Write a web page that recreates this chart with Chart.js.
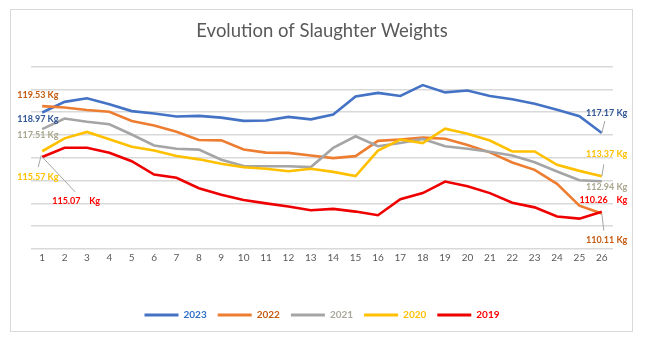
<!DOCTYPE html>
<html>
<head>
<meta charset="utf-8">
<script src="https://cdn.jsdelivr.net/npm/chart.js@4/dist/chart.umd.min.js"></script>
<style>
  html, body { margin: 0; padding: 0; background: #ffffff; }
  #wrap { width: 656px; height: 338px; }
</style>
</head>
<body>
<div id="wrap"><canvas id="chart" width="656" height="338"></canvas></div>
<script>
// Weeks 1..26
const weeks = ['1','2','3','4','5','6','7','8','9','10','11','12','13','14','15','16','17','18','19','20','21','22','23','24','25','26'];

// Average slaughter weight per week (kg)
const w2023 = [118.97, 119.90, 120.22, 119.70, 119.09, 118.88, 118.62, 118.67, 118.52, 118.23, 118.26, 118.58, 118.37, 118.79, 120.38, 120.69, 120.42, 121.37, 120.73, 120.90, 120.42, 120.13, 119.73, 119.20, 118.64, 117.17];
const w2022 = [119.53, 119.40, 119.18, 119.03, 118.23, 117.83, 117.28, 116.55, 116.52, 115.73, 115.45, 115.43, 115.20, 114.97, 115.14, 116.48, 116.60, 116.76, 116.67, 116.12, 115.47, 114.59, 113.94, 112.71, 110.80, 110.11];
const w2021 = [117.51, 118.44, 118.16, 117.93, 117.04, 116.08, 115.79, 115.71, 114.83, 114.28, 114.26, 114.26, 114.18, 115.86, 116.88, 116.01, 116.29, 116.65, 116.00, 115.79, 115.53, 115.20, 114.61, 113.80, 113.03, 112.94];
const w2020 = [115.57, 116.70, 117.26, 116.62, 115.97, 115.64, 115.15, 114.86, 114.47, 114.17, 114.03, 113.82, 114.04, 113.76, 113.40, 115.63, 116.60, 116.29, 117.55, 117.11, 116.51, 115.55, 115.55, 114.38, 113.85, 113.37];
const w2019 = [115.07, 115.88, 115.88, 115.44, 114.70, 113.53, 113.24, 112.33, 111.76, 111.30, 111.00, 110.72, 110.40, 110.52, 110.28, 109.96, 111.37, 111.90, 112.91, 112.50, 111.90, 111.06, 110.65, 109.85, 109.66, 110.26];

const seriesNames = ['2023', '2022', '2021', '2020', '2019'];

// Value axis range and gridline step (kg)
const yMin = 107;
const yMax = 123;
const yStep = 2;

const lineColors   = ['#4472C4', '#ED7D31', '#A5A5A5', '#FFC000', '#EE0000'];
const legendColors = ['#2F6FC6', '#C55A11', '#A9A89A', '#FFC000', '#FF0000'];
const labelColors  = ['#2F5597', '#C55A11', '#A9A68E', '#FFC000', '#FF0000'];

const allSeries = [w2023, w2022, w2021, w2020, w2019];

const fmt = v => v.toFixed(2);

// End-of-series callouts: dataset, point, text builder, offsets from the point, alignment, leader segment
const callouts = [
  { ds: 1, pt: 0,  text: v => fmt(v) + ' Kg',    dx: -25, dy: -10.5, align: 'left',  lead: null },
  { ds: 0, pt: 0,  text: v => fmt(v) + ' Kg',    dx: -25, dy: 6.5,   align: 'left',  lead: null },
  { ds: 2, pt: 0,  text: v => fmt(v) + ' Kg',    dx: -25, dy: 5.5,   align: 'left',  lead: null },
  { ds: 3, pt: 0,  text: v => fmt(v) + ' Kg',    dx: -25, dy: 26,    align: 'left',  lead: [-4, 16, -1, 4] },
  { ds: 4, pt: 0,  text: v => fmt(v) + '    Kg', dx: 10,  dy: 44,    align: 'left',  lead: [0, 0, 33, 35] },
  { ds: 0, pt: 25, text: v => fmt(v) + ' Kg',    dx: 25.5, dy: -20,  align: 'right', lead: [0, 0, 3, -12] },
  { ds: 3, pt: 25, text: v => fmt(v) + ' Kg',    dx: 25.5, dy: -22,  align: 'right', lead: [0, 0, 2, -12] },
  { ds: 2, pt: 25, text: v => fmt(v) + ' Kg',    dx: 25.5, dy: 5.5,  align: 'right', lead: null },
  { ds: 4, pt: 25, text: v => fmt(v) + '    Kg', dx: 25.5, dy: -12,  align: 'right', lead: null },
  { ds: 1, pt: 25, text: v => fmt(v) + ' Kg',    dx: 25.5, dy: 27,   align: 'right', lead: [0, 0, 2, 17] }
];

const frame = {
  id: 'frame',
  beforeDraw(chart) {
    const ctx = chart.ctx;
    ctx.save();
    ctx.fillStyle = '#ffffff';
    ctx.fillRect(0, 0, chart.width, chart.height);
    ctx.strokeStyle = '#d9d9d9';
    ctx.lineWidth = 1;
    ctx.strokeRect(10.5, 9.5, 622, 322);
    ctx.restore();
  }
};

const calloutPlugin = {
  id: 'callouts',
  afterDatasetsDraw(chart) {
    const ctx = chart.ctx;
    ctx.save();
    ctx.font = 'bold 9px Lato, "Liberation Sans", sans-serif';
    ctx.textBaseline = 'middle';
    callouts.forEach(c => {
      const el = chart.getDatasetMeta(c.ds).data[c.pt];
      const v = chart.data.datasets[c.ds].data[c.pt];
      if (c.lead) {
        ctx.strokeStyle = '#A6A6A6';
        ctx.lineWidth = 1;
        ctx.beginPath();
        ctx.moveTo(el.x + c.lead[0], el.y + c.lead[1]);
        ctx.lineTo(el.x + c.lead[2], el.y + c.lead[3]);
        ctx.stroke();
      }
      ctx.fillStyle = labelColors[c.ds];
      ctx.textAlign = c.align;
      ctx.fillText(c.text(v), el.x + c.dx, el.y + c.dy);
    });
    ctx.restore();
  }
};

new Chart(document.getElementById('chart'), {
  type: 'line',
  data: {
    labels: weeks,
    datasets: allSeries.map((d, i) => ({
      label: seriesNames[i],
      data: d,
      borderColor: lineColors[i],
      backgroundColor: lineColors[i],
      borderWidth: 2.6,
      pointRadius: 0,
      tension: 0,
      fill: false,
      order: 5 - i
    }))
  },
  options: {
    responsive: false,
    animation: false,
    layout: { padding: { left: 31, right: 43, top: 20, bottom: 8 } },
    plugins: {
      tooltip: { enabled: false },
      title: {
        display: true,
        text: 'Evolution of Slaughter Weights',
        color: '#595959',
        font: { family: 'Lato, "Open Sans", sans-serif', size: 18.5, weight: '400', lineHeight: 1.2 },
        padding: { top: 0, bottom: 24.3 }
      },
      legend: {
        position: 'bottom',
        labels: {
          boxWidth: 34,
          boxHeight: 3,
          padding: 11,
          font: { family: 'Lato, "Liberation Sans", sans-serif', size: 10, weight: 'bold' },
          generateLabels(chart) {
            return chart.data.datasets.map((ds, i) => ({
              text: ds.label,
              fillStyle: ds.borderColor,
              strokeStyle: ds.borderColor,
              lineWidth: 0,
              fontColor: legendColors[i],
              hidden: false,
              datasetIndex: i
            }));
          }
        }
      }
    },
    scales: {
      x: {
        offset: true,
        grid: { display: false, drawTicks: false },
        border: { display: false },
        ticks: {
          color: '#595959',
          padding: 3,
          maxRotation: 0,
          autoSkip: false,
          font: { family: 'Lato, "Liberation Sans", sans-serif', size: 10 }
        },
        afterFit(scale) { scale.height = 50; }
      },
      y: {
        min: yMin,
        max: yMax,
        grid: { color: '#d9d9d9', lineWidth: 1.5, drawTicks: false },
        border: { display: false },
        ticks: { display: false, stepSize: yStep },
        afterFit(scale) { scale.width = 0; }
      }
    }
  },
  plugins: [frame, calloutPlugin]
});
</script>
</body>
</html>
